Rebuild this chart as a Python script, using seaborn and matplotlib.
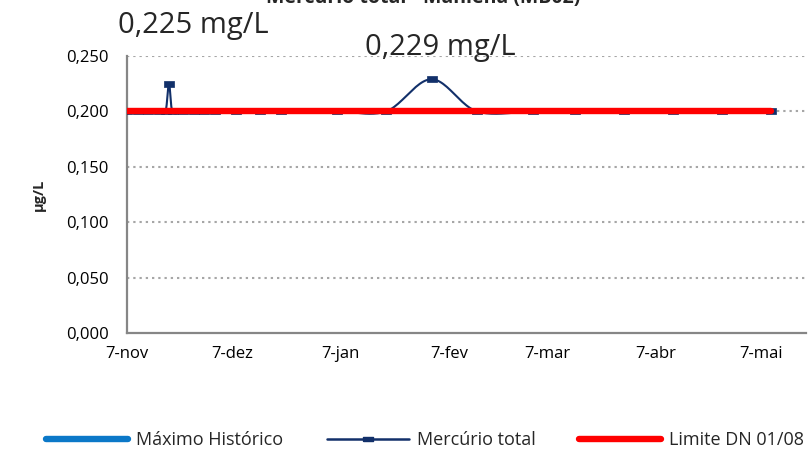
import numpy as np
import pandas as pd
import matplotlib
matplotlib.use("Agg")
import matplotlib.pyplot as plt
import matplotlib.dates as mdates
from matplotlib.lines import Line2D
import seaborn as sns

# ---------------- data ----------------
hg_dates = ["2010-11-07", "2010-11-10", "2010-11-13", "2010-11-16", "2010-11-18",
            "2010-11-19", "2010-11-20", "2010-11-23", "2010-11-26", "2010-11-29",
            "2010-12-02", "2010-12-08", "2010-12-15", "2010-12-21", "2011-01-06",
            "2011-01-20", "2011-02-02", "2011-02-15", "2011-03-03", "2011-03-15",
            "2011-03-29", "2011-04-12", "2011-04-26", "2011-05-10"]
hg_values = [0.200, 0.200, 0.200, 0.200, 0.200,
             0.225, 0.200, 0.200, 0.200, 0.200,
             0.200, 0.200, 0.200, 0.200, 0.200,
             0.200, 0.229, 0.200, 0.200, 0.200,
             0.200, 0.200, 0.200, 0.200]
limit_dates = ["2010-11-07", "2011-05-10"]
limit_values = [0.200, 0.200]
tick_dates = ["2010-11-07", "2010-12-07", "2011-01-07", "2011-02-07",
              "2011-03-07", "2011-04-07", "2011-05-07"]
tick_labels = ["7-nov", "7-dez", "7-jan", "7-fev", "7-mar", "7-abr", "7-mai"]
ytick_values = [0.000, 0.050, 0.100, 0.150, 0.200, 0.250]
ytick_labels = ["0,000", "0,050", "0,100", "0,150", "0,200", "0,250"]
series_names = ["Máximo Histórico", "Mercúrio total", "Limite DN 01/08"]
title = "Mercúrio total - Manlena (MB02)"
peak_labels = ["0,225 mg/L", "0,229 mg/L"]
ylabel = "µg/L"

# ---------------- style ----------------
sns.set_style("white")
FONT = ["Open Sans", "DejaVu Sans"]
plt.rcParams["font.family"] = FONT

NAVY = "#12306A"
RED = "#FF0000"
LBLUE = "#0B78C8"
GRID = "#A6A6A6"
AXC = "#868686"

fig = plt.figure(figsize=(8.09, 4.55), dpi=100)
ax = fig.add_axes([127 / 809, 1 - 333 / 455, (806 - 127) / 809, (333 - 56) / 455])

hg = pd.DataFrame({"date": pd.to_datetime(hg_dates), "value": hg_values})
lim = pd.DataFrame({"date": pd.to_datetime(limit_dates), "value": limit_values})


def smooth_curve(x, y, n=24):
    """Excel-like smoothed line rendering (Bezier through the points)."""
    x = np.asarray(x, float)
    y = np.asarray(y, float)
    P = np.column_stack([x, y])
    out = [P[0]]
    for i in range(len(P) - 1):
        p0 = P[i - 1] if i > 0 else P[i]
        p1 = P[i]
        p2 = P[i + 1]
        p3 = P[i + 2] if i + 2 < len(P) else P[i + 1]
        c1 = p1 + (p2 - p0) / 6.0
        c2 = p2 - (p3 - p1) / 6.0
        t = np.linspace(0, 1, n)[1:, None]
        seg = ((1 - t) ** 3) * p1 + 3 * ((1 - t) ** 2) * t * c1 + 3 * (1 - t) * t ** 2 * c2 + t ** 3 * p2
        out.extend(seg)
    out = np.array(out)
    return out[:, 0], out[:, 1]


xnum = mdates.date2num(hg["date"])
sx, sy = smooth_curve(xnum, hg["value"].values)
ax.plot(sx, sy, color=NAVY, lw=1.5, zorder=3, solid_capstyle="round")

dash = [(-1, -0.5), (1, -0.5), (1, 0.5), (-1, 0.5), (-1, -0.5)]
sns.scatterplot(data=hg, x="date", y="value", ax=ax, marker=dash, s=60,
                color=NAVY, edgecolor=NAVY, linewidth=0.5, zorder=4, legend=False)

sns.lineplot(data=lim, x="date", y="value", ax=ax, color=RED, lw=4.6,
             zorder=5, legend=False, solid_capstyle="round")

# axes
ax.set_ylim(0, 0.25)
x0 = mdates.date2num(pd.Timestamp("2010-11-07"))
ax.set_xlim(x0, x0 + 194)
ax.set_yticks(ytick_values)
ax.set_yticklabels(ytick_labels)
ax.set_xticks(mdates.date2num(pd.to_datetime(tick_dates)))
ax.set_xticklabels(tick_labels)
ax.set_xlabel("")
ax.set_ylabel(ylabel, fontsize=10.5, fontweight="bold")
ax.yaxis.set_label_coords((46 - 127) / (806 - 127), 0.5)

for yv in ytick_values[1:]:
    ax.axhline(yv, color=GRID, lw=1.5, ls=(0, (1.1, 1.9)), zorder=1)

for s in ["top", "right"]:
    ax.spines[s].set_visible(False)
for s in ["left", "bottom"]:
    ax.spines[s].set_color(AXC)
    ax.spines[s].set_linewidth(1.6)
ax.tick_params(axis="both", which="both", color=AXC, width=1.6, length=4,
               labelsize=12, labelcolor="black", direction="out")
ax.tick_params(axis="x", pad=5)
ax.tick_params(axis="y", pad=9)

# texts
fig.text(423 / 809, 1 - 3 / 455, title, ha="center", va="baseline",
         fontsize=14, fontweight="bold")
fig.text(193 / 809, 1 - 33 / 455, peak_labels[0], ha="center", va="baseline", fontsize=21)
fig.text(440 / 809, 1 - 55 / 455, peak_labels[1], ha="center", va="baseline", fontsize=21)

# legend
h1 = Line2D([], [], color=LBLUE, lw=4.6, solid_capstyle="round")
h2 = Line2D([0, 0.5, 1], [0, 0, 0], color=NAVY, lw=1.8, marker=dash,
            markersize=7, markevery=[1])
h3 = Line2D([], [], color=RED, lw=4.6, solid_capstyle="round")
leg = fig.legend([h1, h2, h3], series_names, loc="center left", ncol=3,
                 bbox_to_anchor=(46 / 809, 1 - 440 / 455), frameon=False,
                 fontsize=13, handlelength=4.55, handletextpad=0.45,
                 columnspacing=2.4, borderpad=0, borderaxespad=0)

fig.savefig("out.png", dpi=100)
